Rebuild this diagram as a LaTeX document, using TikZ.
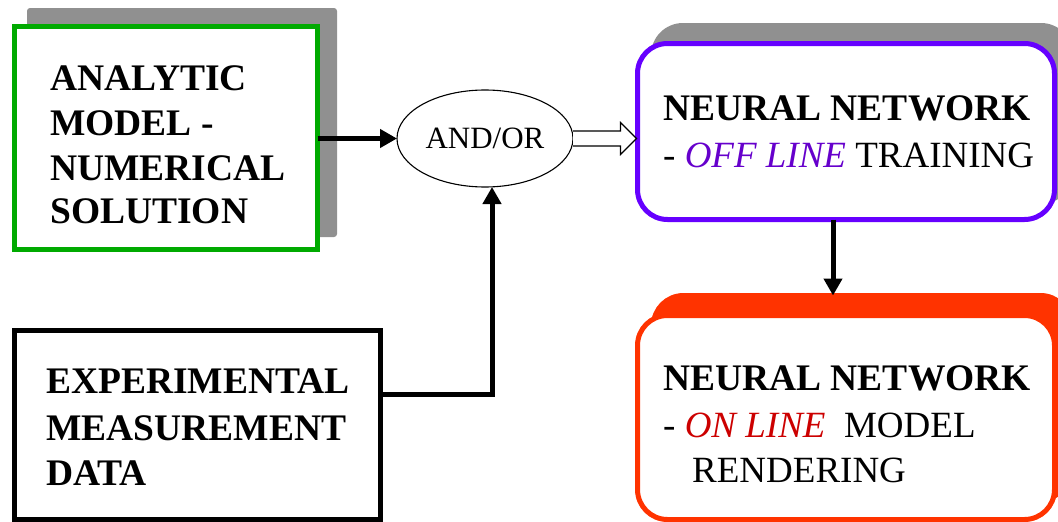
\documentclass[tikz,border=0pt]{standalone}
\usepackage{fontspec}
\setmainfont{Liberation Serif}
\usetikzlibrary{arrows.meta,shapes.geometric,calc}
\definecolor{boxgreen}{HTML}{00AA00}
\definecolor{boxviolet}{HTML}{6600FF}
\definecolor{shadowgray}{HTML}{909090}
\definecolor{boxred}{HTML}{FF3300}
\definecolor{offviolet}{HTML}{6600CC}
\definecolor{ondark}{HTML}{CC0000}
\begin{document}
\begin{tikzpicture}[x=1pt,y=-1pt,
  boxframe/.style={draw, line width=5pt, inner sep=0pt, outer sep=0pt, fill=white},
  shade/.style={fill=shadowgray, inner sep=0pt, outer sep=0pt},
  conn/.style={line width=5pt, -{Triangle[length=17pt,width=18pt]}},
  bigbold/.style={anchor=base west, inner sep=0pt, font=\fontsize{37.5}{44}\selectfont\bfseries},
  bigtext/.style={anchor=base west, inner sep=0pt, font=\fontsize{37}{44}\selectfont},
]
\useasboundingbox (0,0) rectangle (1058,522);
\fill[white] (0,0) rectangle (1058,522);

% shadows
\node[shade, rounded corners=3pt, minimum width=310pt, minimum height=229pt] (ansh) at (182,122.5) {};
\node[shade, rounded corners=32pt, minimum width=422pt, minimum height=181pt] (nnsh) at (862,113.5) {};
\node[fill=boxred, draw=boxred, line width=5pt, rounded corners=30pt, inner sep=0pt, outer sep=0pt,
      minimum width=417pt, minimum height=204pt] (onsh) at (862,397.5) {};

% boxes
\node[boxframe, draw=boxgreen, minimum width=303pt, minimum height=223pt] (an) at (166,138) {};
\node[boxframe, draw=black, minimum width=366pt, minimum height=189pt] (ex) at (197.5,425) {};
\node[boxframe, draw=boxviolet, rounded corners=30pt, minimum width=417pt, minimum height=176pt] (nn) at (846,131.5) {};
\node[boxframe, draw=boxred, rounded corners=30pt, minimum width=417pt, minimum height=204pt] (on) at (846,417.5) {};

% combiner
\node[ellipse, draw, line width=1.1pt, fill=white, minimum width=176pt, minimum height=97pt,
      inner sep=0pt, outer sep=0pt, font=\fontsize{31}{36}\selectfont] (ao) at (485,138.5) {AND/OR};

% connectors
\draw[conn] (an.east |- ao.west) -- (ao.west);
\draw[conn] ([yshift=31pt]ex.east) -| ([xshift=7pt]ao.south);
\draw[conn] ([xshift=-13pt]nn.south) -- ([xshift=-13pt]nn.south |- onsh.north);

% hollow block arrow into the training box
\path (ao.east) coordinate (ha) ([xshift=-1pt]nn.west |- ao.east) coordinate (hb);
\draw[line width=1.2pt, fill=white, line join=miter]
  ([yshift=7.5pt]ha) -- ([xshift=-16pt,yshift=7.5pt]hb) -- ([xshift=-16pt,yshift=16pt]hb)
  -- (hb) -- ([xshift=-16pt,yshift=-16pt]hb) -- ([xshift=-16pt,yshift=-7.5pt]hb) -- ([yshift=-7.5pt]ha);

% labels
\node[bigbold] (an1) at (50,90) {ANALYTIC};
\node[bigbold] (an2) at (50,135) {MODEL -};
\node[bigbold] (an3) at (50,180) {NUMERICAL};
\node[bigbold] (an4) at (50,223) {SOLUTION};

\node[bigbold] (ex1) at (46,393) {EXPERIMENTAL};
\node[bigbold] (ex2) at (46,440) {MEASUREMENT};
\node[bigbold] (ex3) at (46,485) {DATA};

\node[bigbold] (nn1) at (663,120) {NEURAL NETWORK};
\node[bigtext] (nn2) at (663,167) {- {\itshape\color{offviolet}OFF LINE} TRAINING};

\node[bigbold] (on1) at (663,390) {NEURAL NETWORK};
\node[bigtext] (on2) at (663,437) {- {\itshape\color{ondark}ON LINE}\ \ MODEL};
\node[bigtext] (on3) at (692,482) {RENDERING};
\end{tikzpicture}
\end{document}
